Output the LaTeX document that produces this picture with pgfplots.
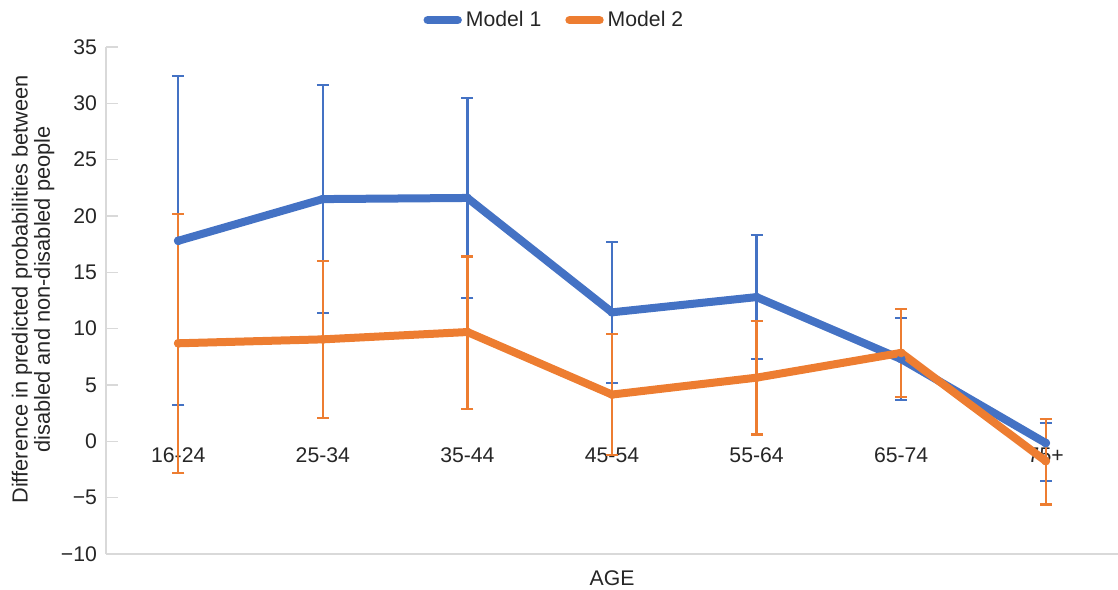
\documentclass[border=0pt]{standalone}
\usepackage{pgfplots}
\usepackage{pgfplotstable}
\pgfplotsset{compat=1.18}
\usepackage{fontspec}
\setmainfont{Liberation Sans}

\definecolor{mblue}{HTML}{4472C4}
\definecolor{morange}{HTML}{ED7D31}
\definecolor{axgray}{HTML}{D9D9D9}
\definecolor{txt}{HTML}{262626}

% age group index, estimate, upper and lower error
\pgfplotstableread{
x y ep em
0 17.8 14.6 14.6
1 21.5 10.1 10.1
2 21.6 8.9 8.9
3 11.45 6.25 6.25
4 12.8 5.5 5.5
5 7.3 3.65 3.65
6 -0.15 1.8 3.4
}\modelone

\pgfplotstableread{
x y ep em
0 8.7 11.45 11.5
1 9.05 6.95 6.95
2 9.7 6.7 6.8
3 4.15 5.35 5.35
4 5.65 5.0 5.05
5 7.85 3.9 3.9
6 -1.75 3.75 3.85
}\modeltwo

\begin{document}
\begin{tikzpicture}
\begin{axis}[
  set layers,
  scale only axis,
  width=506pt, height=253.5pt,
  xmin=-0.5, xmax=6.5,
  ymin=-10, ymax=35,
  axis lines*=left,
  axis line style={draw=axgray, line width=0.8pt},
  xtick={0,...,6},
  xticklabels={16-24,25-34,35-44,45-54,55-64,65-74,75+},
  x tick style={draw=none},
  xticklabel style={yshift=56.5pt},
  ytick={-10,-5,...,35},
  yticklabels={−10,−5,0,5,10,15,20,25,30,35},
  tick align=inside,
  major tick length=6pt,
  y tick style={draw=axgray, line width=0.8pt},
  ticklabel style={font=\fontsize{10.6}{12}\selectfont, text=txt},
  yticklabel style={xshift=-1pt},
  xlabel={AGE},
  xlabel style={at={(axis description cs:0.5,-0.047)}, anchor=center,
    font=\fontsize{10.6}{12}\selectfont, text=txt},
  ylabel={Difference in predicted probabilities between\\disabled and non-disabled people},
  ylabel style={at={(axis description cs:-0.072,0.522)}, anchor=center, rotate=0,
    align=center, font=\fontsize{10.9}{11.2}\selectfont, text=txt},
  legend columns=2,
  legend style={at={(axis description cs:0.444,1.053)}, anchor=center,
    draw=none, fill=none, font=\fontsize{10.6}{12}\selectfont, text=txt,
    /tikz/every even column/.append style={column sep=10pt}},
  legend image code/.code={
    \draw[line width=4.2pt, line cap=round] (0pt,0pt) -- (15pt,0pt);
  },
]
\coordinate (ll) at (rel axis cs:0,0);
\coordinate (ur) at (rel axis cs:1,1);

% error bars first, lines on top
\addplot[forget plot, only marks, mark=none, mblue,
  error bars/.cd, y dir=both, y explicit, error mark=-,
  error bar style={draw=mblue, line width=1.1pt},
  error mark options={rotate=90, draw=mblue, line width=1.1pt, mark size=3pt}]
  table[x=x, y=y, y error plus=ep, y error minus=em] {\modelone};
\addplot[forget plot, only marks, mark=none, morange,
  error bars/.cd, y dir=both, y explicit, error mark=-,
  error bar style={draw=morange, line width=1.1pt},
  error mark options={rotate=90, draw=morange, line width=1.1pt, mark size=3pt}]
  table[x=x, y=y, y error plus=ep, y error minus=em] {\modeltwo};

\addplot[mblue, line width=4pt, line join=round, line cap=round, mark=none]
  table[x=x, y=y] {\modelone};
\addlegendentry{Model 1}
\addplot[morange, line width=4pt, line join=round, line cap=round, mark=none]
  table[x=x, y=y] {\modeltwo};
\addlegendentry{Model 2}
\end{axis}
\pgfresetboundingbox
\path[use as bounding box] ([xshift=-53pt,yshift=-18pt]ll) rectangle ([yshift=23.5pt]ur);
\end{tikzpicture}
\end{document}
